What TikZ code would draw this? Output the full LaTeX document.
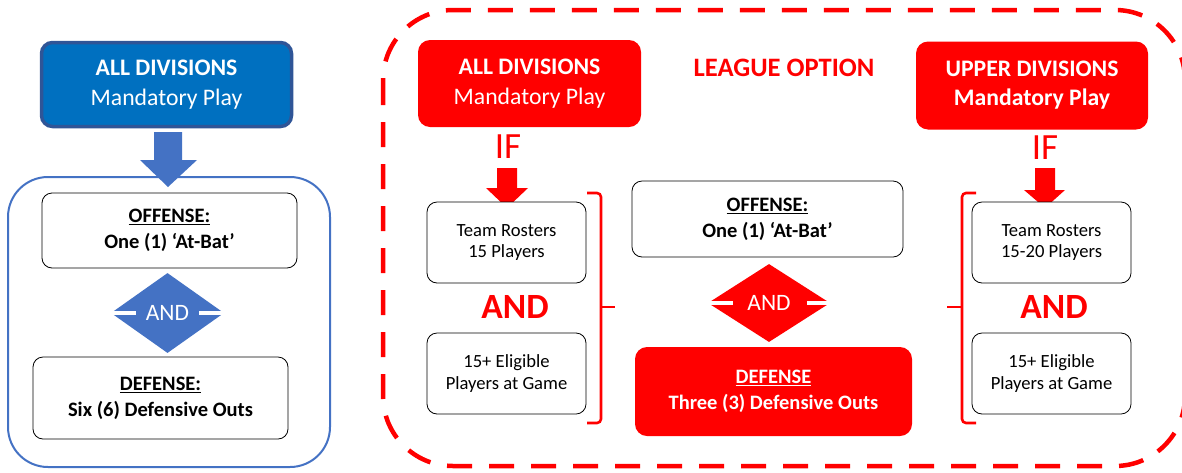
\documentclass[tikz,border=0pt]{standalone}
\usepackage{fontspec}
\setmainfont{Carlito}
\usetikzlibrary{shapes.geometric}
\definecolor{bfill}{HTML}{0070C0}
\definecolor{bdark}{HTML}{2F5597}
\definecolor{bmid}{HTML}{4472C4}
\definecolor{rd}{HTML}{FF0000}
\begin{document}
\begin{tikzpicture}[x=1pt,y=-1pt,
  wbox/.style={draw=black, line width=0.8pt, rounded corners=10pt, fill=white, align=center, inner sep=0pt},
  rbox/.style={fill=rd, rounded corners=12pt, align=center, inner sep=0pt, text=white},
  bigtxt/.style={font=\fontsize{23.7}{30}\selectfont},
  bigbtxt/.style={font=\bfseries\fontsize{23.7}{29}\selectfont},
  smalltxt/.style={font=\fontsize{18.6}{21.5}\selectfont},
  midtxt/.style={font=\bfseries\fontsize{20.5}{26}\selectfont},
  andd/.style={diamond, inner sep=0pt, text=white, font=\fontsize{23.5}{24}\selectfont},
  bar/.style={white, line width=4pt},
  iftxt/.style={text=rd, font=\fontsize{37}{40}\selectfont, inner sep=0pt},
  andtxt/.style={text=rd, font=\bfseries\fontsize{35.5}{40}\selectfont, inner sep=0pt},
  brk/.style={draw=rd, line width=2.6pt, rounded corners=4pt},
]
\useasboundingbox (0,0) rectangle (1182,472);

% ---------- left blue part ----------
\draw[bmid, line width=2pt, rounded corners=40pt] (8,177) rectangle (330,467);
\node[fill=bfill, draw=bdark, line width=3.5pt, rounded corners=11pt, minimum width=250pt, minimum height=84pt,
      align=center, text=white, bigtxt, inner sep=0pt] (lt) at (166.5,84.5)
      {\textbf{ALL DIVISIONS}\\Mandatory Play};
\fill[bmid] (154,132) -- (182,132) -- (182,160) -- (197,160) -- (168,187) -- (140,160) -- (154,160) -- cycle;
\node[wbox, midtxt, minimum width=255pt, minimum height=75pt] (lo) at (169.5,230.5)
      {\underline{OFFENSE:}\\One (1) ‘At-Bat’};
\node[andd, fill=bmid, minimum width=113pt, minimum height=80pt] (ld) at (167.5,313) {AND};
\draw[bar] (ld.west) -- ++(25,0);
\draw[bar] (ld.east) -- ++(-25,0);
\node[wbox, midtxt, minimum width=255pt, minimum height=82pt] (ldf) at (160.5,398)
      {\underline{DEFENSE:}\\Six (6) Defensive Outs};

% ---------- right red part ----------
\draw[rd, line width=4.5pt, rounded corners=70pt, dash pattern=on 25pt off 17pt] (383,10) rectangle (1185,466);

\node[rbox, bigtxt, minimum width=223pt, minimum height=87pt] (ra) at (529.5,83.5)
      {\textbf{ALL DIVISIONS}\\Mandatory Play};
\node[text=rd, font=\bfseries\fontsize{26.6}{28}\selectfont, inner sep=0pt] (lg) at (784,68) {LEAGUE OPTION};
\node[rbox, bigbtxt, minimum width=232pt, minimum height=88pt] (ru) at (1032,85.5)
      {UPPER DIVISIONS\\Mandatory Play};

% left group
\node[iftxt] (if1) at (508,147) {IF};
\fill[rd] (497,168) -- (517,168) -- (517,188) -- (528,188) -- (507,208) -- (486,188) -- (497,188) -- cycle;
\node[wbox, smalltxt, minimum width=159pt, minimum height=81pt] (tr1) at (506.5,242.5)
      {Team Rosters\\15 Players};
\node[andtxt] (and1) at (515,307) {AND};
\node[wbox, smalltxt, minimum width=159pt, minimum height=81pt] (el1) at (506.5,373.5)
      {15+ Eligible\\Players at Game};
\draw[brk] (587,193) -- (601,193) -- (601,423) -- (587,423);
\draw[brk] (601,307) -- (615,307);

% middle
\node[wbox, midtxt, minimum width=271pt, minimum height=76pt] (mo) at (767.5,219)
      {\underline{OFFENSE:}\\One (1) ‘At-Bat’};
\node[andd, fill=rd, minimum width=122pt, minimum height=78pt] (md) at (769,303) {AND};
\draw[bar] (md.west) -- ++(25,0);
\draw[bar] (md.east) -- ++(-23,0);
\node[rbox, midtxt, minimum width=277pt, minimum height=89pt] (mdf) at (773.5,391.5)
      {\underline{DEFENSE}\\Three (3) Defensive Outs};

% right group
\node[iftxt] (if2) at (1045,148) {IF};
\fill[rd] (1035,168) -- (1055,168) -- (1055,190) -- (1065,190) -- (1045,208) -- (1024,190) -- (1035,190) -- cycle;
\node[wbox, smalltxt, minimum width=159pt, minimum height=81pt] (tr2) at (1051.5,242.5)
      {Team Rosters\\15-20 Players};
\node[andtxt] (and2) at (1054,307) {AND};
\node[wbox, smalltxt, minimum width=159pt, minimum height=81pt] (el2) at (1051.5,373.5)
      {15+ Eligible\\Players at Game};
\draw[brk] (976,193) -- (962,193) -- (962,423) -- (976,423);
\draw[brk] (962,307) -- (947,307);
\end{tikzpicture}
\end{document}
